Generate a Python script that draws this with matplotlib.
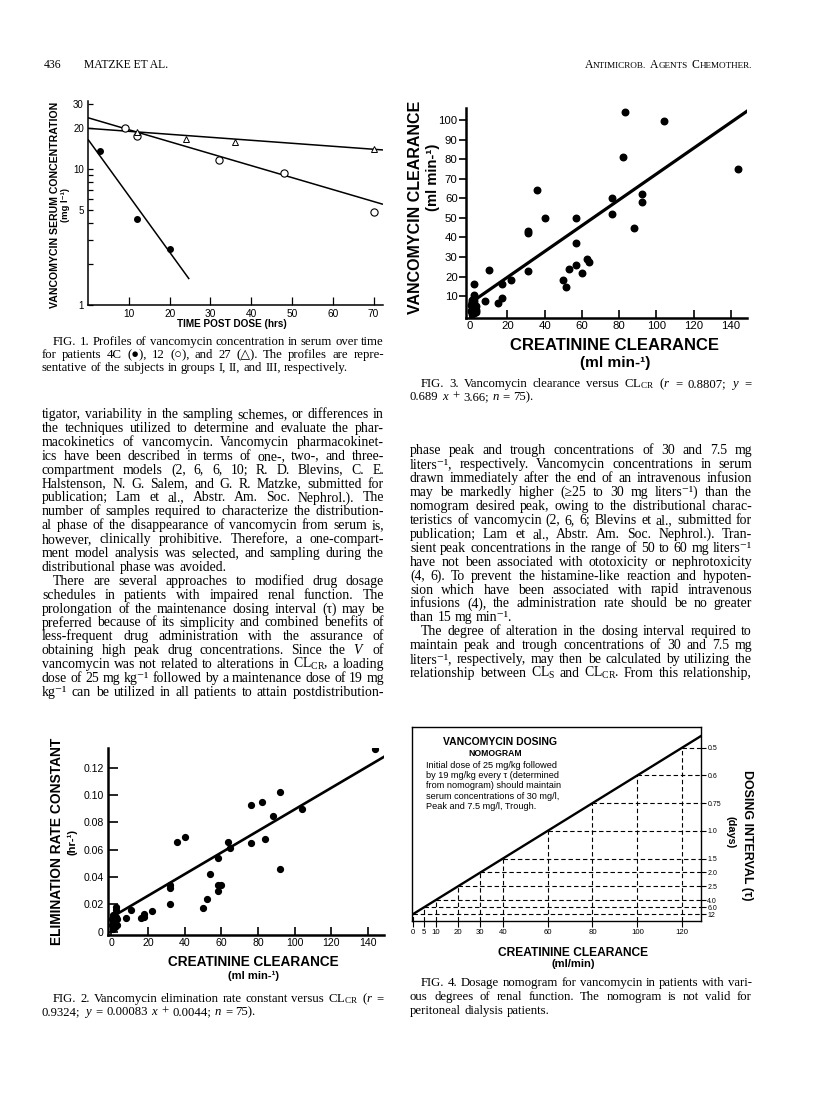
import matplotlib
matplotlib.use("Agg")
import matplotlib.pyplot as plt
from matplotlib import font_manager
import numpy as np

W, H = 816, 1096

plt.rcParams['mathtext.fontset'] = 'custom'
plt.rcParams['mathtext.rm'] = 'Liberation Serif'
plt.rcParams['mathtext.it'] = 'Liberation Serif:italic'
plt.rcParams['mathtext.bf'] = 'Liberation Serif:bold'

names = {f.name for f in font_manager.fontManager.ttflist}
NARROW = 'Liberation Sans Narrow' if 'Liberation Sans Narrow' in names else 'Liberation Sans'
SANS = 'Liberation Sans'
SERIF = ['Liberation Serif', 'DejaVu Serif', 'DejaVu Sans']
SUP = '\u207b\u00b9'   # superscript -1

# ---- data: Fig. 1 (serum concentration vs time, log scale)
f1_time_4c = [3, 12, 20]
f1_conc_4c = [13.6, 4.3, 2.6]
f1_time_12 = [9, 12, 32, 48, 70]
f1_conc_12 = [19.9, 17.5, 11.6, 9.3, 4.85]
f1_time_27 = [12, 24, 36, 70]
f1_conc_27 = [18.8, 16.6, 15.7, 14.0]
# fitted lines (start/end)
f1_fit_t = [[0, 24.8], [0, 72.3], [0, 72.3]]
f1_fit_c = [[16.5, 1.55], [23.8, 5.5], [19.9, 13.8]]
f1_yticks = [1, 5, 10, 20, 30]
f1_xticks = [10, 20, 30, 40, 50, 60, 70]

# ---- data: Fig. 3 (vancomycin clearance vs creatinine clearance)
f3_clcr = [83, 104, 82, 144, 36, 76, 92, 92, 76, 40, 57, 88, 31, 31, 57, 63, 64,
           57, 60, 53, 50, 51.5, 31, 10, 22, 17, 17, 15, 8, 2, 2, 2,
           1, 2, 1, 2, 1, 2, 0.5, 1.5, 1, 2, 3, 3, 0.5, 2, 3, 1, 2.5]
f3_clv = [104, 99.5, 81, 75, 64, 60, 62, 58, 52, 50, 50, 45, 43, 42, 37, 29, 27.5,
          26, 22, 24, 18, 14.5, 23, 23.3, 18, 16, 9, 6.5, 7.5, 16, 10.5, 9,
          7, 6, 5, 4.5, 3.5, 3, 2.5, 2, 1, 1.5, 5, 3, 5.5, 7.5, 2, 8, 4]
f3_fit = [0.66, 6.4]          # slope, intercept of the drawn line
f3_fit_x = [0.3, 149]
f3_xticks = [0, 20, 40, 60, 80, 100, 120, 140]
f3_yticks = [10, 20, 30, 40, 50, 60, 70, 80, 90, 100]

# ---- data: Fig. 2 (elimination rate constant vs creatinine clearance)
f2_clcr = [144, 92, 82, 76, 104, 88, 36, 40, 63.5, 76, 84, 64.5, 58, 92, 54, 32, 32,
           58, 60, 58, 52, 50, 32, 22, 18, 18, 16, 10.5, 8, 2.5, 2.5,
           1, 2, 1, 2, 0.5, 1.5, 3, 3, 1, 2, 0.5, 2.5, 1.5]
f2_k = [0.134, 0.102, 0.095, 0.093, 0.090, 0.085, 0.066, 0.069, 0.066, 0.065, 0.068,
        0.061, 0.054, 0.046, 0.042, 0.034, 0.032, 0.034, 0.034, 0.030, 0.024, 0.017,
        0.020, 0.015, 0.013, 0.011, 0.010, 0.016, 0.010, 0.018, 0.016,
        0.012, 0.010, 0.008, 0.006, 0.005, 0.004, 0.009, 0.005, 0.002, 0.003,
        0.009, 0.011, 0.007]
f2_fit = [0.00079, 0.0105]
f2_fit_x = [0.2, 149]
f2_xticks = [0, 20, 40, 60, 80, 100, 120, 140]
f2_yticks = [0, 0.02, 0.04, 0.06, 0.08, 0.10, 0.12]
f2_ylabels = ['0', '0.02', '0.04', '0.06', '0.08', '0.10', '0.12']

# ---- data: Fig. 4 (nomogram): creatinine clearance and matching dosing interval
nomo_clcr = [0, 5, 10, 20, 30, 40, 60, 80, 100, 120]
nomo_tau = ['12', '6.0', '4.0', '2.5', '2.0', '1.5', '1.0', '0.75', '0.6', '0.5']

fig = plt.figure(figsize=(W / 100, H / 100), dpi=100)
renderer = fig.canvas.get_renderer()

# column edges (pixels)
LX0, LX1 = 42, 384
RX0, RX1 = 410, 752


def axbox(l, t, r, b):
    return fig.add_axes([l / W, 1 - b / H, (r - l) / W, (b - t) / H])


def fy(y):
    return 1 - y / H


def fit_label(x, y, s, width, rot=0, family=SANS, weight='bold'):
    t = fig.text(x / W, fy(y), s, fontsize=10, family=family, weight=weight,
                 rotation=rot, ha='center', va='center')
    bb = t.get_window_extent(renderer)
    size = bb.height if rot in (90, -90) else bb.width
    t.set_fontsize(10 * width / size)
    return t


def natural_width(line, size):
    objs = [fig.text(0, 0, w, fontsize=size, family=SERIF) for w in line.split()]
    wd = sum(t.get_window_extent(renderer).width for t in objs)
    for t in objs:
        t.remove()
    return wd + (len(objs) - 1) * size * 100 / 72 * 0.25


def put_line(line, x0, x1, y, size, justify=True, indent=0):
    words = line.split()
    objs = [fig.text(0, fy(y), w, fontsize=size, family=SERIF, va='baseline', ha='left')
            for w in words]
    widths = [t.get_window_extent(renderer).width for t in objs]
    start = x0 + indent
    if justify and len(words) > 1:
        gap = (x1 - start - sum(widths)) / (len(words) - 1)
    else:
        gap = size * 100 / 72 * 0.25
    x = start
    for t, wd in zip(objs, widths):
        t.set_x(x / W)
        x += wd + gap


def block_size(lines, x0, x1, para_end=(), indents=(), indent=11):
    # font size at which the widest justified line sets with normal spaces
    ratios = []
    for i, line in enumerate(lines):
        if i in para_end:
            continue
        avail = x1 - x0 - (indent if i in indents else 0)
        ratios.append(avail / natural_width(line, 10))
    return 10 * min(ratios)


def put_block(lines, x0, x1, y0, dy, para_end=(), indents=(), indent=11, size=None):
    if size is None:
        size = block_size(lines, x0, x1, para_end, indents, indent)
    for i, line in enumerate(lines):
        put_line(line, x0, x1, y0 + i * dy, size, justify=i not in para_end,
                 indent=indent if i in indents else 0)
    return size


def small_caps(text, x_right, y, big=8.4, small=6.6):
    segs = []
    for w in text.split(' '):
        segs.append((w[0], big))
        if len(w) > 1:
            segs.append((w[1:].upper(), small))
        segs.append((' ', big))
    segs = segs[:-1]
    objs = [fig.text(0, fy(y), s, fontsize=sz, family='Liberation Serif', va='baseline')
            for s, sz in segs]
    widths = [t.get_window_extent(renderer).width if s.strip() else sz * 100 / 72 * 0.35
              for t, (s, sz) in zip(objs, segs)]
    x = x_right - sum(widths)
    for t, wd in zip(objs, widths):
        t.set_x(x / W)
        x += wd


# ---------------- header
fig.text(44 / W, fy(68), '436', fontsize=8.4, family='Liberation Serif', va='baseline')
fig.text(84 / W, fy(68), 'MATZKE ET AL.', fontsize=8.4, family='Liberation Serif', va='baseline')
small_caps('Antimicrob. Agents Chemother.', RX1, 68)

# ---------------- Fig. 1
ax1 = axbox(88, 101, 383, 305)
ax1.set_yscale('log')
ax1.set_xlim(0, 72.3)
ax1.set_ylim(1, 31.6)
for tt, cc in zip(f1_fit_t, f1_fit_c):
    ax1.plot(tt, cc, color='black', lw=1.1, solid_capstyle='butt')
ax1.plot(f1_time_4c, f1_conc_4c, 'o', color='black', ms=4)
ax1.plot(f1_time_12, f1_conc_12, 'o', mfc='white', mec='black', ms=5.2, mew=0.8)
ax1.plot(f1_time_27, f1_conc_27, '^', mfc='white', mec='black', ms=4, mew=0.7)
ax1.set_yticks(f1_yticks, [str(v) for v in f1_yticks])
ax1.set_yticks([2, 3, 4, 6, 7, 8, 9], minor=True)
ax1.yaxis.set_minor_formatter(matplotlib.ticker.NullFormatter())
ax1.set_xticks(f1_xticks, [str(v) for v in f1_xticks])
ax1.tick_params(axis='y', which='both', direction='in', length=3.5, width=0.9,
                labelsize=7, pad=3)
ax1.tick_params(axis='x', direction='in', length=6, width=0.9, labelsize=7.3, pad=3)
for lab in ax1.get_xticklabels() + ax1.get_yticklabels():
    lab.set_family(SANS)
for sp in ['top', 'right']:
    ax1.spines[sp].set_visible(False)
for sp in ['left', 'bottom']:
    ax1.spines[sp].set_linewidth(1.1)
fit_label(55, 205, 'VANCOMYCIN SERUM CONCENTRATION', 206, rot=90)
fig.text(66 / W, fy(205), '(mg l' + SUP + ')', fontsize=6.8,
         family=['Liberation Sans', 'DejaVu Sans'],
         weight='bold', rotation=90, ha='center', va='center')
fit_label(232, 324, 'TIME POST DOSE (hrs)', 110)

# ---------------- body text (same type size in both columns)
left_body = [
    'tigator, variability in the sampling schemes, or differences in',
    'the techniques utilized to determine and evaluate the phar-',
    'macokinetics of vancomycin. Vancomycin pharmacokinet-',
    'ics have been described in terms of one-, two-, and three-',
    'compartment models (2, 6, 6, 10; R. D. Blevins, C. E.',
    'Halstenson, N. G. Salem, and G. R. Matzke, submitted for',
    'publication; Lam et al., Abstr. Am. Soc. Nephrol.). The',
    'number of samples required to characterize the distribution-',
    'al phase of the disappearance of vancomycin from serum is,',
    'however, clinically prohibitive. Therefore, a one-compart-',
    'ment model analysis was selected, and sampling during the',
    'distributional phase was avoided.',
    'There are several approaches to modified drug dosage',
    'schedules in patients with impaired renal function. The',
    'prolongation of the maintenance dosing interval (\u03c4) may be',
    'preferred because of its simplicity and combined benefits of',
    'less-frequent drug administration with the assurance of',
    'obtaining high peak drug concentrations. Since the $V$ of',
    'vancomycin was not related to alterations in CL$_\\mathrm{CR}$, a loading',
    'dose of 25 mg kg' + SUP + ' followed by a maintenance dose of 19 mg',
    'kg' + SUP + ' can be utilized in all patients to attain postdistribution-',
]
right_body = [
    'phase peak and trough concentrations of 30 and 7.5 mg',
    'liters' + SUP + ', respectively. Vancomycin concentrations in serum',
    'drawn immediately after the end of an intravenous infusion',
    'may be markedly higher (\u226525 to 30 mg liters' + SUP + ') than the',
    'nomogram desired peak, owing to the distributional charac-',
    'teristics of vancomycin (2, 6, 6; Blevins et al., submitted for',
    'publication; Lam et al., Abstr. Am. Soc. Nephrol.). Tran-',
    'sient peak concentrations in the range of 50 to 60 mg liters' + SUP,
    'have not been associated with ototoxicity or nephrotoxicity',
    '(4, 6). To prevent the histamine-like reaction and hypoten-',
    'sion which have been associated with rapid intravenous',
    'infusions (4), the administration rate should be no greater',
    'than 15 mg min' + SUP + '.',
    'The degree of alteration in the dosing interval required to',
    'maintain peak and trough concentrations of 30 and 7.5 mg',
    'liters' + SUP + ', respectively, may then be calculated by utilizing the',
    'relationship between CL$_\\mathrm{S}$ and CL$_\\mathrm{CR}$. From this relationship,',
]
body_size = min(block_size(left_body, LX0, LX1, (11,), (12,)),
                block_size(right_body, RX0, RX1, (12,), (13,)))
put_block(left_body, LX0, LX1, 418, 13.9, para_end=(11,), indents=(12,), size=body_size)
put_block(right_body, RX0, RX1, 454, 13.95, para_end=(12,), indents=(13,), size=body_size)

cap1 = ['FIG. 1. Profiles of vancomycin concentration in serum over time',
        'for patients 4C (\u25cf), 12 (\u25cb), and 27 (\u25b3). The profiles are repre-',
        'sentative of the subjects in groups I, II, and III, respectively.']
cap2 = ['FIG. 2. Vancomycin elimination rate constant versus CL$_\\mathrm{CR}$ ($r$ =',
        '0.9324; $y$ = 0.00083 $x$ + 0.0044; $n$ = 75).']
cap3 = ['FIG. 3. Vancomycin clearance versus CL$_\\mathrm{CR}$ ($r$ = 0.8807; $y$ =',
        '0.689 $x$ + 3.66; $n$ = 75).']
cap4 = ['FIG. 4. Dosage nomogram for vancomycin in patients with vari-',
        'ous degrees of renal function. The nomogram is not valid for',
        'peritoneal dialysis patients.']
cap_size = min(block_size(cap1, LX0, LX1, (2,), (0,)),
               block_size(cap2, LX0, LX1, (1,), (0,)),
               block_size(cap3, RX0, RX1, (1,), (0,)),
               block_size(cap4, RX0, RX1, (2,), (0,)))
put_block(cap1, LX0, LX1, 345, 12.8, para_end=(2,), indents=(0,), size=cap_size)

# ---------------- Fig. 2
ax2 = axbox(108, 748, 384, 935)
ax2.set_xlim(-1.9, 148.8)
ax2.set_ylim(-0.0025, 0.1345)
xx = np.array(f2_fit_x)
ax2.plot(xx, f2_fit[0] * xx + f2_fit[1], color='black', lw=1.9)
ax2.plot(f2_clcr, f2_k, 'o', color='black', ms=4.2)
ax2.set_xticks(f2_xticks, [str(v) for v in f2_xticks])
ax2.set_yticks(f2_yticks, f2_ylabels)
ax2.tick_params(axis='y', direction='in', length=7, width=1.2, labelsize=7.6, pad=3)
ax2.tick_params(axis='x', direction='in', length=5.5, width=1.2, labelsize=7.6, pad=2)
for lab in ax2.get_xticklabels() + ax2.get_yticklabels():
    lab.set_family(SANS)
for sp in ['top', 'right']:
    ax2.spines[sp].set_visible(False)
for sp in ['left', 'bottom']:
    ax2.spines[sp].set_linewidth(1.8)
fit_label(57, 841, 'ELIMINATION RATE CONSTANT', 207, rot=90, family=NARROW)
fig.text(72 / W, fy(842), '(hr-\u00b9)', fontsize=8, family=SANS, weight='bold',
         rotation=90, ha='center', va='center')
fit_label(253, 962, 'CREATININE CLEARANCE', 170, family=NARROW)
fig.text(253 / W, fy(976), '(ml min-\u00b9)', fontsize=8, family=SANS, weight='bold',
         ha='center', va='center')
put_block(cap2, LX0, LX1, 1002, 13.0, para_end=(1,), indents=(0,), size=cap_size)

# ---------------- Fig. 3
ax3 = axbox(466, 108, 747, 318)
ax3.set_xlim(-2.2, 148.6)
ax3.set_ylim(-1.2, 106.1)
xx = np.array(f3_fit_x)
ax3.plot(xx, f3_fit[0] * xx + f3_fit[1], color='black', lw=2.3)
ax3.plot(f3_clcr, f3_clv, 'o', color='black', ms=4.7)
ax3.set_xticks(f3_xticks, [str(v) for v in f3_xticks])
ax3.set_yticks(f3_yticks, [str(v) for v in f3_yticks])
ax3.tick_params(axis='y', direction='out', length=5, width=1.2, labelsize=8.2, pad=1)
ax3.tick_params(axis='x', direction='in', length=5.5, width=1.2, labelsize=8.2, pad=2)
for lab in ax3.get_xticklabels() + ax3.get_yticklabels():
    lab.set_family(NARROW)
for sp in ['top', 'right']:
    ax3.spines[sp].set_visible(False)
for sp in ['left', 'bottom']:
    ax3.spines[sp].set_linewidth(1.8)
fit_label(416, 207, 'VANCOMYCIN CLEARANCE', 213, rot=90, family=NARROW)
fit_label(433, 177, '(ml min-\u00b9)', 68, rot=90, family=NARROW)
fit_label(614, 345, 'CREATININE CLEARANCE', 208, family=NARROW)
fit_label(615, 363, '(ml min-\u00b9)', 70, family=NARROW)
put_block(cap3, RX0, RX1, 387, 13.0, para_end=(1,), indents=(0,), size=cap_size)

# ---------------- Fig. 4 nomogram
ax4 = axbox(412, 727, 701, 921)
ax4.set_xlim(-0.5, 128.4)
ax4.set_ylim(-5, 134.9)
xr = ax4.get_xlim()[1]
yb = ax4.get_ylim()[0]
ax4.plot([0, xr], [0, xr], color='black', lw=1.7)
for c in nomo_clcr:
    ax4.plot([c, xr], [c, c], color='black', lw=0.8, ls=(0, (4, 2.5)))
    ax4.plot([c, c], [yb, c], color='black', lw=0.8, ls=(0, (4, 2.5)))
ax4.set_xticks(nomo_clcr, [str(v) for v in nomo_clcr])
ax4.yaxis.tick_right()
ax4.set_yticks(nomo_clcr, nomo_tau)
ax4.tick_params(axis='x', direction='out', length=4, width=0.8, labelsize=5.6, pad=2)
ax4.tick_params(axis='y', direction='out', length=3.5, width=0.8, labelsize=5.0, pad=1)
for lab in ax4.get_xticklabels() + ax4.get_yticklabels():
    lab.set_family(SANS)
for sp in ax4.spines.values():
    sp.set_linewidth(1.0)
fit_label(500, 742, 'VANCOMYCIN DOSING', 113)
fit_label(495, 753, 'NOMOGRAM', 53)
box_lines = ['Initial dose of 25 mg/kg followed',
             'by 19 mg/kg every \u03c4 (determined',
             'from nomogram) should maintain',
             'serum concentrations of 30 mg/l,',
             'Peak and 7.5 mg/l, Trough.']
for i, s in enumerate(box_lines):
    fig.text(426 / W, fy(765 + i * 10.4), s, fontsize=6.6, family=SANS,
             ha='left', va='center')
fit_label(747, 835, 'DOSING INTERVAL (\u03c4)', 130, rot=-90)
fit_label(730, 832, '(days)', 32, rot=-90)
fit_label(573, 953, 'CREATININE CLEARANCE', 150)
fit_label(573, 964, '(ml/min)', 44)
put_block(cap4, RX0, RX1, 986, 13.8, para_end=(2,), indents=(0,), size=cap_size)

fig.savefig('out.png', dpi=100)
